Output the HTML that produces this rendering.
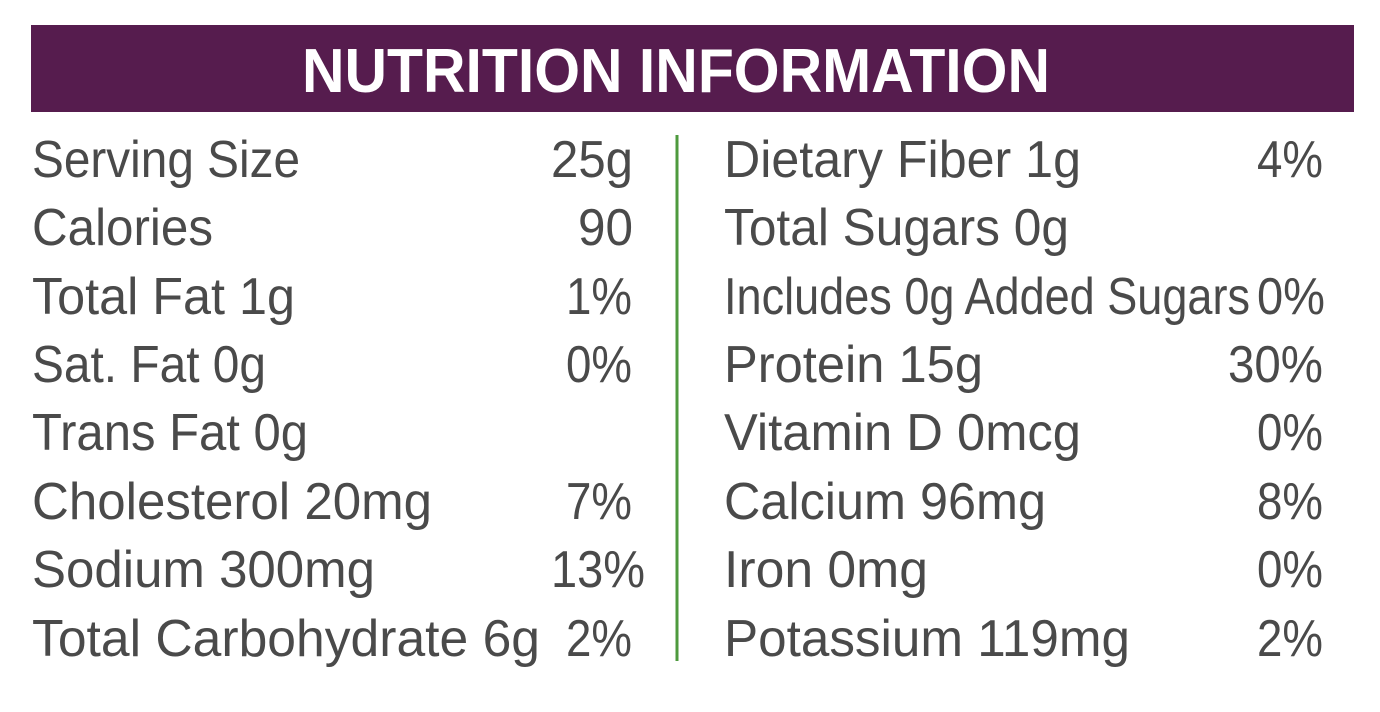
<!DOCTYPE html>
<html><head><meta charset="utf-8"><style>
html,body{margin:0;padding:0;background:#fff;}
svg{display:block;}
text{font-family:"Liberation Sans",sans-serif;fill:#4a4a4a;font-size:52px;}
</style></head><body>
<svg width="1380" height="712" viewBox="0 0 1380 712" xmlns="http://www.w3.org/2000/svg">
<rect x="0" y="0" width="1380" height="712" fill="#fff"/>
<rect x="31" y="25" width="1323" height="87" fill="#561c4e"/>
<text x="302" y="92" style="fill:#fff;font-size:62px;font-weight:bold" textLength="748" lengthAdjust="spacingAndGlyphs">NUTRITION INFORMATION</text>
<rect x="675.5" y="135" width="3" height="526" fill="#4e9a3e"/>
<g>
<text x="32" y="177" textLength="268" lengthAdjust="spacingAndGlyphs">Serving Size</text>
<text x="551" y="177" textLength="82" lengthAdjust="spacingAndGlyphs">25g</text>
<text x="32" y="245" textLength="181" lengthAdjust="spacingAndGlyphs">Calories</text>
<text x="578" y="245" textLength="55" lengthAdjust="spacingAndGlyphs">90</text>
<text x="32" y="314" textLength="263" lengthAdjust="spacingAndGlyphs">Total Fat 1g</text>
<text x="566" y="314" textLength="66" lengthAdjust="spacingAndGlyphs">1%</text>
<text x="32" y="382" textLength="234" lengthAdjust="spacingAndGlyphs">Sat. Fat 0g</text>
<text x="566" y="382" textLength="66" lengthAdjust="spacingAndGlyphs">0%</text>
<text x="32" y="450" textLength="276" lengthAdjust="spacingAndGlyphs">Trans Fat 0g</text>
<text x="32" y="519" textLength="400" lengthAdjust="spacingAndGlyphs">Cholesterol 20mg</text>
<text x="566" y="519" textLength="66" lengthAdjust="spacingAndGlyphs">7%</text>
<text x="32" y="587" textLength="343" lengthAdjust="spacingAndGlyphs">Sodium 300mg</text>
<text x="551" y="587" textLength="94" lengthAdjust="spacingAndGlyphs">13%</text>
<text x="32" y="656" textLength="508" lengthAdjust="spacingAndGlyphs">Total Carbohydrate 6g</text>
<text x="566" y="656" textLength="66" lengthAdjust="spacingAndGlyphs">2%</text>

<text x="724" y="177" textLength="357" lengthAdjust="spacingAndGlyphs">Dietary Fiber 1g</text>
<text x="1257" y="177" textLength="66" lengthAdjust="spacingAndGlyphs">4%</text>
<text x="724" y="245" textLength="345" lengthAdjust="spacingAndGlyphs">Total Sugars 0g</text>
<text x="724" y="314" textLength="526" lengthAdjust="spacingAndGlyphs">Includes 0g Added Sugars</text>
<text x="1257" y="314" textLength="68" lengthAdjust="spacingAndGlyphs">0%</text>
<text x="724" y="382" textLength="259" lengthAdjust="spacingAndGlyphs">Protein 15g</text>
<text x="1228" y="382" textLength="95" lengthAdjust="spacingAndGlyphs">30%</text>
<text x="724" y="450" textLength="357" lengthAdjust="spacingAndGlyphs">Vitamin D 0mcg</text>
<text x="1257" y="450" textLength="66" lengthAdjust="spacingAndGlyphs">0%</text>
<text x="724" y="519" textLength="322" lengthAdjust="spacingAndGlyphs">Calcium 96mg</text>
<text x="1257" y="519" textLength="66" lengthAdjust="spacingAndGlyphs">8%</text>
<text x="724" y="587" textLength="204" lengthAdjust="spacingAndGlyphs">Iron 0mg</text>
<text x="1257" y="587" textLength="66" lengthAdjust="spacingAndGlyphs">0%</text>
<text x="724" y="656" textLength="406" lengthAdjust="spacingAndGlyphs">Potassium 119mg</text>
<text x="1257" y="656" textLength="66" lengthAdjust="spacingAndGlyphs">2%</text>
</g>
</svg>
</body></html>
